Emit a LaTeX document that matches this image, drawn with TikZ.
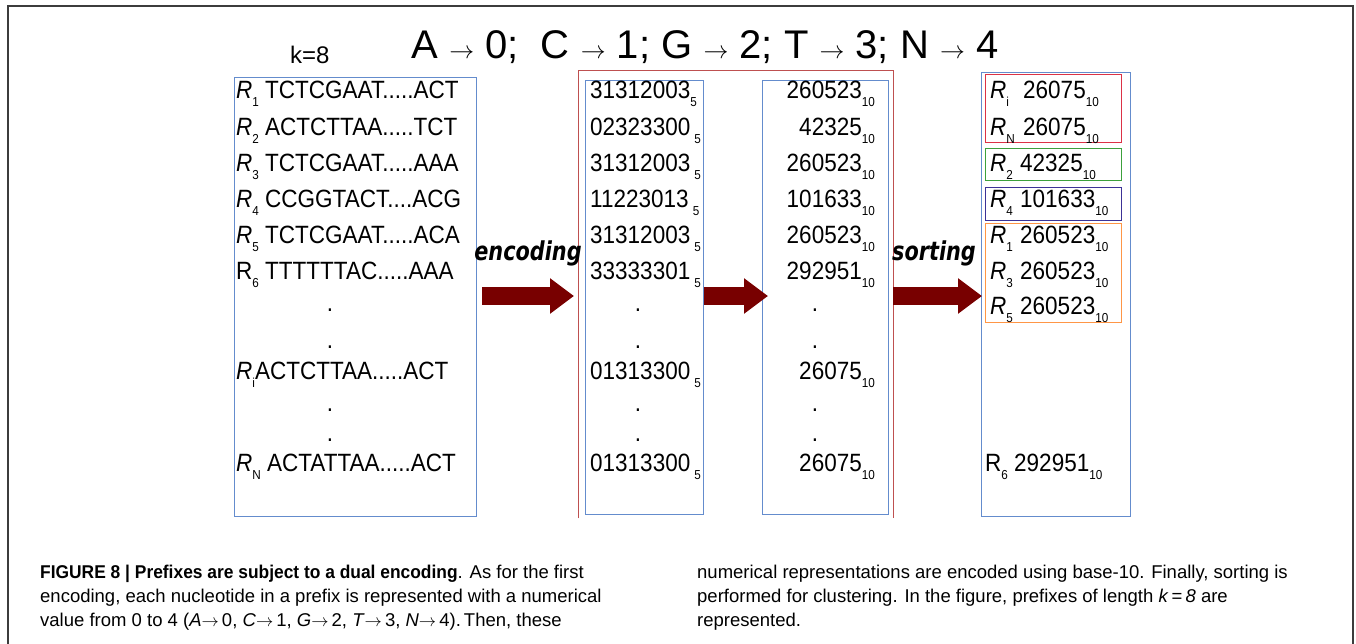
\documentclass[tikz,border=0pt]{standalone}
\usepackage{fontspec}
\setmainfont{Liberation Sans}
\newfontfamily\narrowfont[FakeStretch=0.9]{Liberation Sans}
\newfontfamily\capbold[FakeStretch=0.94]{Liberation Sans}
\newfontfamily\handfont[FakeStretch=0.8]{DejaVu Sans}
\usetikzlibrary{arrows.meta}

\definecolor{boxblue}{RGB}{100,140,205}
\definecolor{dualred}{RGB}{190,80,80}
\definecolor{arrowred}{RGB}{120,0,0}
\definecolor{framegray}{RGB}{60,60,60}
\definecolor{clusterred}{RGB}{220,50,70}
\definecolor{clustergreen}{RGB}{60,160,60}
\definecolor{clusterpurple}{RGB}{60,50,150}
\definecolor{clusterorange}{RGB}{255,150,70}

\newcommand{\lowsub}[1]{\raisebox{-8pt}{\fontsize{13}{13}\selectfont #1}}
\newcommand{\Rn}[1]{\textit{R}\lowsub{#1}}
\newcommand{\Rbox}[1]{\makebox[30pt][l]{\Rn{#1}}}

\tikzset{
	rowtext/.style={anchor=base west, inner sep=0pt, font=\narrowfont\fontsize{25}{30}\selectfont},
	numtext/.style={anchor=base east, inner sep=0pt, font=\narrowfont\fontsize{25}{30}\selectfont},
	dotmark/.style={anchor=base, inner sep=0pt, font=\narrowfont\fontsize{25}{30}\selectfont},
	bluebox/.style={draw=boxblue, line width=1pt, anchor=north west, inner sep=0pt},
	bigarrow/.style={arrowred, line width=18pt, -{Triangle[length=24pt, width=34pt]}},
	flowlabel/.style={anchor=base, inner sep=0pt, font=\handfont\bfseries\itshape\fontsize{26}{30}\selectfont},
	captext/.style={anchor=base west, inner sep=0pt, font=\fontsize{18.5}{22}\selectfont}
}

\begin{document}
\begin{tikzpicture}[x=1pt, y=-1pt]
	\useasboundingbox (0,0) rectangle (1356,643);
	\draw[framegray, line width=1.5pt] (8,660) -- (8,6) -- (1353,6) -- (1353,660);

	% title and k
	\node[anchor=base, inner sep=0pt, font=\fontsize{40}{44}\selectfont] (title) at (705,58) {A $\rightarrow$ 0;\ \ C $\rightarrow$ 1; G $\rightarrow$ 2; T $\rightarrow$ 3; N $\rightarrow$ 4};
	\node[anchor=base west, inner sep=0pt, font=\fontsize{24}{28}\selectfont] (kval) at (290,63) {k=8};

	% boxes
	\node[bluebox, minimum width=242, minimum height=439] (reads) at (234,77) {};
	\node[anchor=north west, inner sep=0pt, minimum width=315, minimum height=448] (dual) at (578,70) {};
	\draw[dualred, line width=1pt] (dual.south west) -- (dual.north west) -- (dual.north east) -- (dual.south east);
	\node[bluebox, minimum width=118, minimum height=434] (base5) at (585,80) {};
	\node[bluebox, minimum width=126, minimum height=434] (base10) at (762,80) {};
	\node[bluebox, minimum width=149, minimum height=444] (sorted) at (981,72) {};

	% clusters
	\draw[clusterred, line width=1pt] (985,74) rectangle (1121,142);
	\draw[clustergreen, line width=1pt] (985,148) rectangle (1121,180);
	\draw[clusterpurple, line width=1pt] (985,187) rectangle (1121,220);
	\draw[clusterorange, line width=1pt] (985,223) rectangle (1121,322);

	% reads
	\foreach \y/\txt [count=\i] in {98/{\Rn{1} TCTCGAAT.....ACT}, 135/{\Rn{2} ACTCTTAA.....TCT},
		171/{\Rn{3} TCTCGAAT.....AAA}, 207/{\Rn{4} CCGGTACT....ACG}, 243/{\Rn{5} TCTCGAAT.....ACA},
		279/{R\lowsub{6} TTTTTTAC.....AAA}, 379/{\Rn{i}ACTCTTAA.....ACT}, 471/{\Rn{N} ACTATTAA.....ACT}}
		\node[rowtext] (read\i) at (236,\y) {\txt};

	% base 5
	\foreach \y/\txt [count=\i] in {98/{31312003\lowsub{5}}, 135/{02323300\,\lowsub{5}}, 171/{31312003\,\lowsub{5}},
		207/{11223013\,\lowsub{5}}, 243/{31312003\,\lowsub{5}}, 279/{33333301\,\lowsub{5}},
		379/{01313300\,\lowsub{5}}, 471/{01313300\,\lowsub{5}}}
		\node[rowtext] (five\i) at (590,\y) {\txt};

	% base 10
	\foreach \y/\txt [count=\i] in {98/260523, 135/42325, 171/260523, 207/101633, 243/260523,
		279/292951, 379/26075, 471/26075}
		\node[numtext] (ten\i) at (862,\y) {\txt\rlap{\lowsub{10}}};

	% dots
	\foreach \y in {311,348,411,441} {
		\node[dotmark] (dotr\y) at (330,\y) {.};
		\node[dotmark] (dotf\y) at (638,\y) {.};
		\node[dotmark] (dott\y) at (815,\y) {.};
	}

	% sorted
	\foreach \y/\txt [count=\i] in {98/{\Rbox{i}\kern3pt 26075\lowsub{10}}, 135/{\Rbox{N}\kern3pt 26075\lowsub{10}},
		171/{\Rbox{2}42325\lowsub{10}}, 207/{\Rbox{4}101633\lowsub{10}}, 243/{\Rbox{1}260523\lowsub{10}},
		279/{\Rbox{3}260523\lowsub{10}}, 314/{\Rbox{5}260523\lowsub{10}}}
		\node[rowtext] (sort\i) at (990,\y) {\txt};
	\node[rowtext] (sort8) at (985,471) {R\lowsub{6} 292951\lowsub{10}};

	% arrows
	\coordinate (flow) at (0,296);
	\draw[bigarrow, shorten <=5pt, shorten >=4pt] (reads.east |- flow) -- (dual.west |- flow);
	\draw[bigarrow, shorten >=-6pt] (base5.east |- flow) -- (base10.west |- flow);
	\draw[bigarrow, shorten >=-1pt] (dual.east |- flow) -- (sorted.west |- flow);
	\node[flowlabel] (enc) at (528,260) {encoding};
	\node[flowlabel] (sort) at (934,260) {sorting};

	% caption
	\node[captext] (capl1) at (40,578) {{\capbold\bfseries FIGURE 8 | Prefixes are subject to a dual encoding}. As for the first};
	\node[captext] (capl2) at (40,602) {encoding, each nucleotide in a prefix is represented with a numerical};
	\node[captext] (capl3) at (40,626) {value from 0 to 4 (\textit{A}$\rightarrow$\,0, \textit{C}$\rightarrow$\,1, \textit{G}$\rightarrow$\,2, \textit{T}$\rightarrow$\,3, \textit{N}$\rightarrow$\,4).\,Then, these};
	\node[captext] (capr1) at (697,578) {numerical representations are encoded using base-10. Finally, sorting is};
	\node[captext] (capr2) at (697,602) {performed for clustering. In the figure, prefixes of length \textit{k}\,=\,\textit{8} are};
	\node[captext] (capr3) at (697,626) {represented.};
\end{tikzpicture}
\end{document}
